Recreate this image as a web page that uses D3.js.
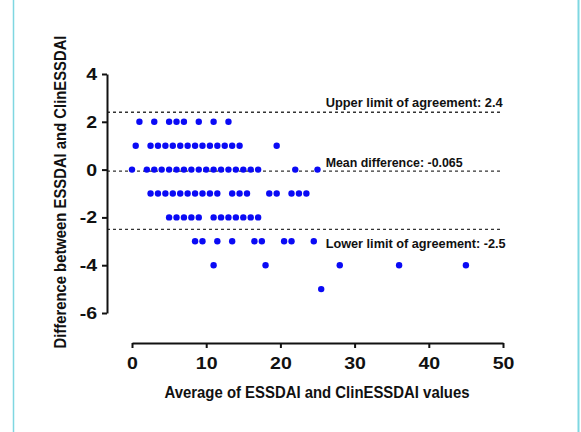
<!DOCTYPE html>
<html>
<head>
<meta charset="utf-8">
<script src="https://cdn.jsdelivr.net/npm/d3@7"></script>
<style>
  html, body { margin: 0; padding: 0; background: #fff; }
  svg { display: block; }
  text { font-family: "Liberation Sans", Arial, sans-serif; font-weight: bold; fill: #111; }
</style>
</head>
<body>
<svg id="chart" width="581" height="432"></svg>
<script>
// ---- data: averages (x) grouped by difference (y) ----
const avgDiffPlus2  = [1, 3, 5, 6, 7, 9, 11, 13];
const avgDiffPlus1  = [0.5, 2.5, 3.5, 4.5, 5.5, 6.5, 7.5, 8.5, 9.5, 10.5, 11.5, 12.5, 13.5, 14.5, 19.5];
const avgDiffZero   = [0, 2, 3, 4, 5, 6, 7, 8, 9, 10, 11, 12, 13, 14, 15, 16, 17, 22, 25];
const avgDiffMinus1 = [2.5, 3.5, 4.5, 5.5, 6.5, 7.5, 8.5, 9.5, 10.5, 11.5, 13.5, 14.5, 15.5, 18.5, 19.5, 21.5, 22.5, 23.5];
const avgDiffMinus2 = [5, 6, 7, 8, 9, 11, 12, 13, 14, 15, 16, 17];
const avgDiffMinus3 = [8.5, 9.5, 11.5, 13.5, 16.5, 17.5, 20.5, 21.5, 24.5];
const avgDiffMinus4 = [11, 18, 28, 36, 45];
const avgDiffMinus5 = [25.5];
const differences   = [2, 1, 0, -1, -2, -3, -4, -5];

const refValues = [2.4, -0.065, -2.5];
const refLabels = ["Upper limit of agreement: 2.4", "Mean difference: -0.065", "Lower limit of agreement: -2.5"];

const xTicks = [0, 10, 20, 30, 40, 50];
const yTicks = [-6, -4, -2, 0, 2, 4];

const xTitle = "Average of ESSDAI and ClinESSDAI values";
const yTitle = "Difference between ESSDAI and ClinESSDAI";

// ---- build points ----
const groups = [avgDiffPlus2, avgDiffPlus1, avgDiffZero, avgDiffMinus1, avgDiffMinus2, avgDiffMinus3, avgDiffMinus4, avgDiffMinus5];
const points = [];
groups.forEach((g, i) => g.forEach(a => points.push({ avg: a, diff: differences[i] })));

// ---- layout ----
const svg = d3.select("#chart");
const x = d3.scaleLinear().domain([0, 50]).range([132, 503]);
const y = d3.scaleLinear().domain([-6, 4]).range([313, 74]);
const yAxisX = 107;
const xAxisY = 343;
const tickStretch = 1.15;

// frame lines
svg.append("line").attr("x1", 13.5).attr("x2", 13.5).attr("y1", 0).attr("y2", 432)
  .attr("stroke", "#7fd7e1").attr("stroke-width", 1.5);
svg.append("line").attr("x1", 578.5).attr("x2", 578.5).attr("y1", 0).attr("y2", 432)
  .attr("stroke", "#7fd7e1").attr("stroke-width", 2);

// reference dashed lines
svg.append("g").selectAll("line").data(refValues).join("line")
  .attr("x1", yAxisX).attr("x2", x(50))
  .attr("y1", d => y(d)).attr("y2", d => y(d))
  .attr("stroke", "#333").attr("stroke-width", 1.3)
  .attr("stroke-dasharray", "3,3");

// reference labels
const labelOffsets = [-5, -4, 18.5];
const labelWidths = [177, 137, 180];
svg.append("g").selectAll("text").data(refValues).join("text")
  .attr("x", x(26.1))
  .attr("y", (d, i) => y(d) + labelOffsets[i])
  .style("font-size", "13.2px")
  .attr("textLength", (d, i) => labelWidths[i])
  .attr("lengthAdjust", "spacingAndGlyphs")
  .text((d, i) => refLabels[i]);

// points
svg.append("g").selectAll("circle").data(points).join("circle")
  .attr("cx", d => x(d.avg)).attr("cy", d => y(d.diff))
  .attr("r", 3.2).attr("fill", "#0a0af5");

// axes
const fmt = d => String(d);
const yAxis = d3.axisLeft(y).tickValues(yTicks).tickFormat(fmt).tickSize(5).tickSizeOuter(0);
const gy = svg.append("g").attr("transform", `translate(${yAxisX},0)`).call(yAxis);
gy.attr("font-size", null).attr("font-family", null);
gy.select(".domain").attr("stroke", "#111").attr("stroke-width", 2);
gy.selectAll(".tick line").attr("stroke", "#111").attr("stroke-width", 2);
gy.selectAll(".tick text").style("font-size", "17px").attr("fill", "#111")
  .attr("x", -10 / tickStretch).attr("transform", `scale(${tickStretch},1)`);

const xAxis = d3.axisBottom(x).tickValues(xTicks).tickFormat(fmt).tickSize(5).tickSizeOuter(0).tickPadding(9);
const gx = svg.append("g").attr("transform", `translate(0,${xAxisY})`).call(xAxis);
gx.attr("font-size", null).attr("font-family", null);
gx.select(".domain").attr("stroke", "#111").attr("stroke-width", 2);
gx.selectAll(".tick line").attr("stroke", "#111").attr("stroke-width", 2);
gx.selectAll(".tick text").style("font-size", "17px").attr("fill", "#111")
  .attr("transform", `scale(${tickStretch},1)`);

// titles
svg.append("text").attr("x", 317).attr("y", 398).attr("text-anchor", "middle")
  .style("font-size", "15.8px").attr("textLength", 305).attr("lengthAdjust", "spacingAndGlyphs")
  .text(xTitle);
svg.append("text").attr("transform", "translate(66,192) rotate(-90)")
  .attr("text-anchor", "middle").style("font-size", "15.8px")
  .attr("textLength", 313).attr("lengthAdjust", "spacingAndGlyphs")
  .text(yTitle);
</script>
</body>
</html>
